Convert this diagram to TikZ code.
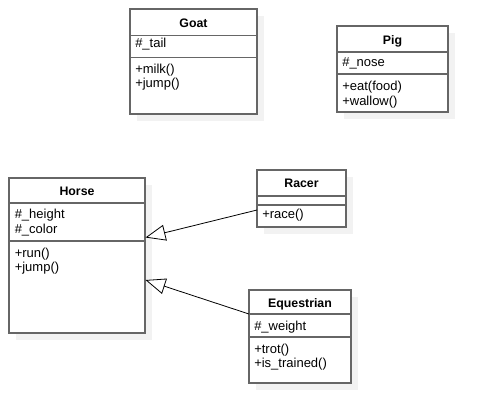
\documentclass[tikz,border=0pt]{standalone}
\usepackage{fontspec}
\setmainfont{Liberation Sans}
\usetikzlibrary{arrows.meta}
\definecolor{boxline}{HTML}{666666}
\definecolor{shade}{HTML}{F2F2F2}
\tikzset{
 classbox/.style={draw=boxline, line width=1pt, fill=white, inner sep=0pt, outer sep=0pt},
 divider/.style={draw=boxline, line width=1pt},
 shadowbox/.style={fill=shade, draw=none},
 ctitle/.style={font=\fontsize{9.25}{11}\selectfont\bfseries, anchor=base, inner sep=0pt},
 member/.style={font=\fontsize{9.75}{11}\selectfont, anchor=base west, inner sep=0pt},
 inherit/.style={draw=black, line width=0.6pt, -{Triangle[open, length=15pt, width=12pt, fill=white]}},
}
\newcommand\umlbox[7]{%
 \fill[shadowbox] (#2+7,#3+7) rectangle (#4+7,#5+7);
 \node[classbox, minimum width={(#4-#2)*0.75pt}, minimum height={(#5-#3)*0.75pt}] (#1) at ({(#2+#4)/2},{(#3+#5)/2}) {};
 \draw[divider] (#2,#6) -- (#4,#6);
 \draw[divider] (#2,#7) -- (#4,#7);
}
\begin{document}
\begin{tikzpicture}[x=0.75pt,y=-0.75pt]
\useasboundingbox[fill=white] (0,0) rectangle (488,415);
% Goat
\umlbox{goat}{130}{9}{257}{114}{35.7}{57.3}
\node[ctitle] (goatT) at (193.5,27) {Goat};
\node[member] (goatA1) at (135,47) {\#\_tail};
\node[member] (goatM1) at (135,73) {+milk()};
\node[member] (goatM2) at (135,87.5) {+jump()};
% Pig
\umlbox{pig}{337}{26}{448}{112}{52}{74}
\node[ctitle] (pigT) at (392.5,44) {Pig};
\node[member] (pigA1) at (342,66) {\#\_nose};
\node[member] (pigM1) at (342,90) {+eat(food)};
\node[member] (pigM2) at (342,105) {+wallow()};
% Horse
\umlbox{horse}{9}{178}{145}{333}{203}{241}
\node[ctitle] (horseT) at (77,195) {Horse};
\node[member] (horseA1) at (14.5,218.5) {\#\_height};
\node[member] (horseA2) at (14.5,233.3) {\#\_color};
\node[member] (horseM1) at (14.5,257.3) {+run()};
\node[member] (horseM2) at (14.5,271.7) {+jump()};
% Racer
\umlbox{racer}{257}{170}{346}{227}{196}{205}
\node[ctitle] (racerT) at (301.5,187) {Racer};
\node[member] (racerM1) at (262,218.5) {+race()};
% Equestrian
\umlbox{equestrian}{249}{290}{351}{383}{314}{337}
\node[ctitle] (equestrianT) at (300,307) {Equestrian};
\node[member] (equestrianA1) at (254,330) {\#\_weight};
\node[member] (equestrianM1) at (254,353.3) {+trot()};
\node[member] (equestrianM2) at (254,367.7) {+is\_trained()};
% Inheritance
\coordinate (racerEnd) at (257,210);
\coordinate (horseTipA) at (145.5,237.5);
\coordinate (equestrianEnd) at (249,314);
\coordinate (horseTipB) at (145.5,280);
\draw[inherit] (racerEnd) -- (horseTipA);
\draw[inherit] (equestrianEnd) -- (horseTipB);
\end{tikzpicture}
\end{document}
